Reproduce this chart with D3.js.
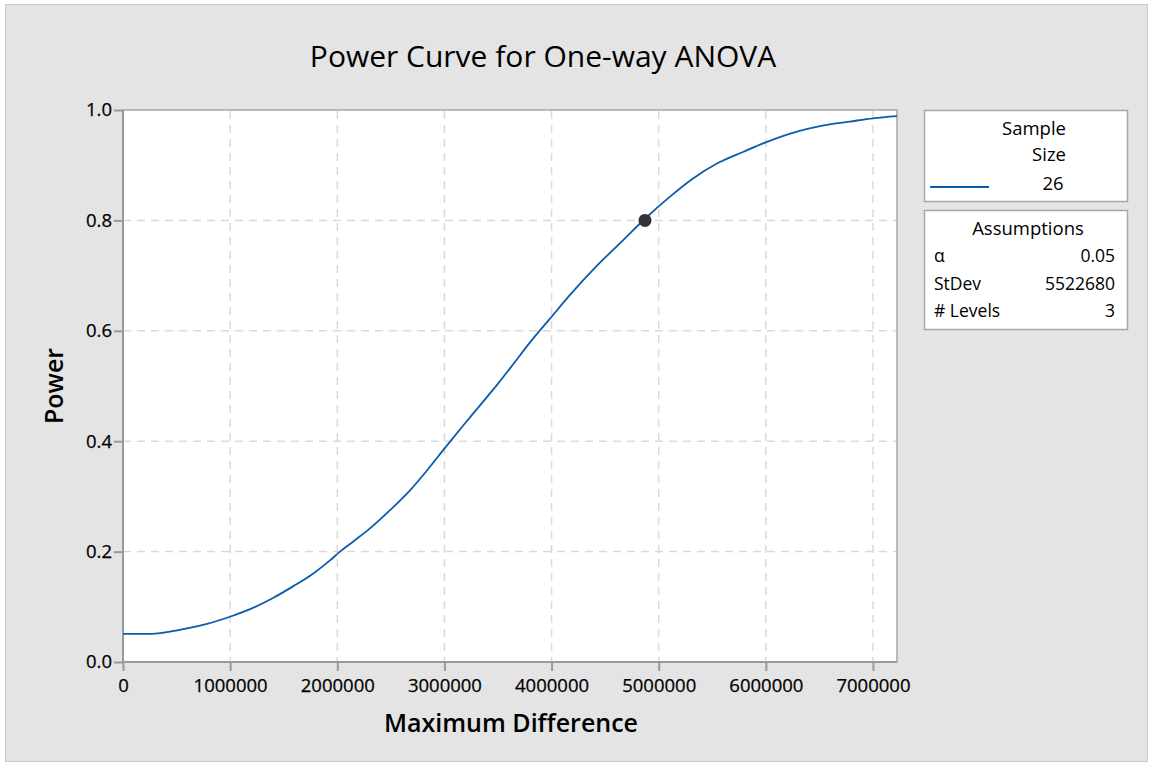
<!DOCTYPE html>
<html><head><meta charset="utf-8">
<script src="https://cdn.jsdelivr.net/npm/d3@7"></script>
<style>body{margin:0;background:#fff;} text{font-family:"Open Sans","Noto Sans",sans-serif;}</style>
</head><body>
<svg id="chart" width="1152" height="767"></svg>
<script>
const maxDiff = [0, 270700, 438700, 597300, 784000, 998700, 1213400, 1400000, 1586700, 1773400, 1932000, 2025400, 2146700, 2305400, 2492100, 2678700, 2837400, 3005400, 3173400, 3332100, 3490800, 3640100, 3798800, 3985400, 4172100, 4424100, 4666800, 4872100, 5105400, 5320100, 5544100, 5786800, 5992100, 6290800, 6505500, 6785500, 7000200, 7224200];
const power = [0.051, 0.051, 0.055, 0.061, 0.069, 0.082, 0.098, 0.116, 0.137, 0.160, 0.184, 0.200, 0.218, 0.242, 0.275, 0.311, 0.347, 0.388, 0.428, 0.465, 0.502, 0.539, 0.579, 0.622, 0.665, 0.718, 0.764, 0.803, 0.843, 0.876, 0.903, 0.924, 0.941, 0.961, 0.971, 0.979, 0.985, 0.989];
const markerPoint = [4872100, 0.8];
const xTicks = [0, 1000000, 2000000, 3000000, 4000000, 5000000, 6000000, 7000000];
const yTicks = [0.0, 0.2, 0.4, 0.6, 0.8, 1.0];
const sampleSize = ["26"];
const assumptionLabels = ["\u03b1", "StDev", "# Levels"];
const assumptionValues = ["0.05", "5522680", "3"];

const svg = d3.select("#chart");
svg.append("rect").attr("x",5.5).attr("y",4.5).attr("width",1142).attr("height",757)
  .attr("fill","#e4e4e4").attr("stroke","#c8c8c8");

const L=123, R=897, T=110, B=662;
const x = d3.scaleLinear().domain([0, 7224200]).range([L, R]);
const y = d3.scaleLinear().domain([0, 1]).range([B, T]);

svg.append("rect").attr("x",L).attr("y",T).attr("width",R-L).attr("height",B-T)
  .attr("fill","#fff").attr("stroke","#a6a6a6").attr("stroke-width",1.5);

// grid
const g = svg.append("g");
g.selectAll(".vg").data(xTicks.slice(1)).join("line")
  .attr("x1",d=>x(d)).attr("x2",d=>x(d)).attr("y1",T+1).attr("y2",B)
  .attr("stroke","#d9d9d9").attr("stroke-width",1.5).attr("stroke-dasharray","8,6");
g.selectAll(".hg").data(yTicks.slice(1,-1)).join("line")
  .attr("x1",L).attr("x2",R-1).attr("y1",d=>y(d)).attr("y2",d=>y(d))
  .attr("stroke","#d9d9d9").attr("stroke-width",1.5).attr("stroke-dasharray","8,6");

// axes
const xAxis = d3.axisBottom(x).tickValues(xTicks).tickFormat(d3.format("d")).tickSize(9).tickPadding(8);
const yAxis = d3.axisLeft(y).tickValues(yTicks).tickFormat(d3.format(".1f")).tickSize(9).tickPadding(2);
const gx = svg.append("g").attr("transform",`translate(0,${B})`).call(xAxis);
const gy = svg.append("g").attr("transform",`translate(${L},0)`).call(yAxis);
[gx,gy].forEach(a=>{
  a.select(".domain").attr("stroke","#999").attr("stroke-width",2);
  a.selectAll(".tick line").attr("stroke","#999").attr("stroke-width",2);
  a.selectAll(".tick text").attr("fill","#000").style("font-size","18.5px")
    .style("font-family","'Open Sans','Noto Sans',sans-serif")
    .attr("stroke","#000").attr("stroke-width",0.25);
});
gx.select(".domain").attr("d",`M${L},0H${R}`);
gy.select(".domain").attr("d",`M0,${B}V${T}`);

// curve
const pts = maxDiff.map((d,i)=>[d,power[i]]);
svg.append("path").datum(pts)
  .attr("d", d3.line().curve(d3.curveMonotoneX).x(d=>x(d[0])).y(d=>y(d[1])))
  .attr("fill","none").attr("stroke","#0a5cac").attr("stroke-width",1.8);
svg.append("circle").attr("cx",x(markerPoint[0])).attr("cy",y(markerPoint[1])).attr("r",6.5).attr("fill","#333");

// titles
svg.append("text").attr("x",543).attr("y",67).attr("text-anchor","middle")
  .style("font-size","30px").attr("fill","#000").text("Power Curve for One-way ANOVA");
svg.append("text").attr("x",511).attr("y",732).attr("text-anchor","middle")
  .style("font-size","25px").style("font-weight","600").attr("fill","#000").text("Maximum Difference");
svg.append("text").attr("transform","translate(63,386) rotate(-90)").attr("text-anchor","middle")
  .style("font-size","25px").style("font-weight","600").attr("fill","#000").text("Power");

// legend box 1
svg.append("rect").attr("x",924.5).attr("y",110.5).attr("width",203).attr("height",91)
  .attr("fill","#fff").attr("stroke","#a6a6a6").attr("stroke-width",1.5);
svg.append("text").attr("x",1034).attr("y",135).attr("text-anchor","middle").style("font-size","18.5px").attr("fill","#000").text("Sample");
svg.append("text").attr("x",1049).attr("y",161).attr("text-anchor","middle").style("font-size","18.5px").attr("fill","#000").text("Size");
svg.append("line").attr("x1",930).attr("x2",989).attr("y1",187).attr("y2",187).attr("stroke","#0a5cac").attr("stroke-width",1.8);
svg.selectAll(".ss").data(sampleSize).join("text").attr("x",1053).attr("y",190).attr("text-anchor","middle")
  .style("font-size","18.5px").attr("fill","#000").text(d=>d);

// legend box 2
svg.append("rect").attr("x",924.5).attr("y",210.5).attr("width",203).attr("height",119)
  .attr("fill","#fff").attr("stroke","#a6a6a6").attr("stroke-width",1.5);
svg.append("text").attr("x",1028).attr("y",235).attr("text-anchor","middle").style("font-size","18.5px").attr("fill","#000").text("Assumptions");
svg.selectAll(".al").data(assumptionLabels).join("text").attr("x",934).attr("y",(d,i)=>262+i*27.5)
  .style("font-size","17.5px").attr("fill","#000").text(d=>d);
svg.selectAll(".av").data(assumptionValues).join("text").attr("x",1115).attr("y",(d,i)=>262+i*27.5)
  .attr("text-anchor","end").style("font-size","17.5px").attr("fill","#000").text(d=>d);
</script>
</body></html>
